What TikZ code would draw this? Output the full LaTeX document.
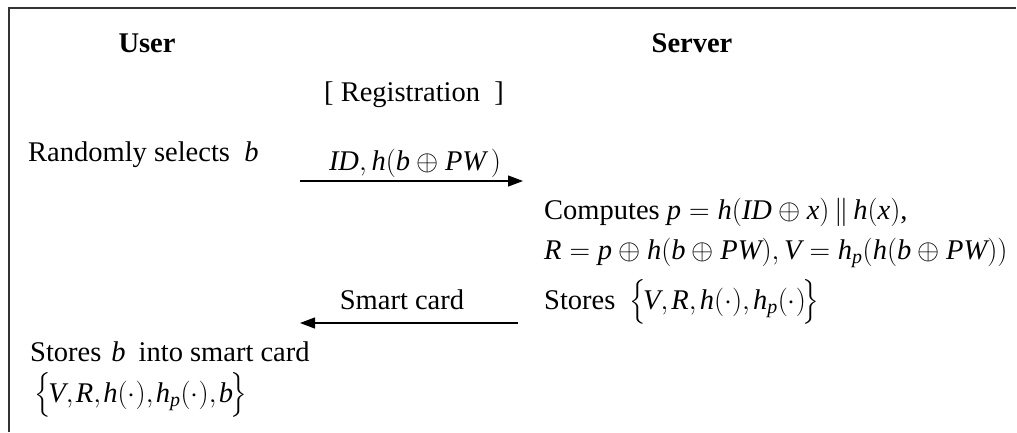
\documentclass[tikz,border=0pt]{standalone}
\usepackage{fix-cm}
\usepackage{amsmath}
\usepackage{fontspec}
\setmainfont{Liberation Serif}
\usetikzlibrary{arrows.meta}
\newcommand{\mv}[1]{\textit{#1}}
\begin{document}
\begin{tikzpicture}[x=1pt,y=-1pt,
  txt/.style={inner sep=0pt, font=\fontsize{28.5}{34}\selectfont},
  lt/.style={txt, anchor=base west},
  ct/.style={txt, anchor=base},
  msg/.style={line width=1.2pt, -{Triangle[length=15pt,width=11pt]}},
  frame/.style={line width=1.3pt, black!80}]
\useasboundingbox (0,0) rectangle (1017,432);
\draw[frame] (9,432) -- (9,8) -- (1016,8);

\node[ct] (user) at (147,52) {\textbf{User}};
\node[ct] (server) at (692,52) {\textbf{Server}};
\node[ct] (reg) at (414,101) {[ Registration\ \ ]};

\node[lt] (rand) at (28,161) {Randomly selects\ \ $\mv{b}$};
\node[ct] (msg1) at (415,170) {$\mv{ID}, \mv{h}(\mv{b}\oplus \mv{PW}\,)$};
\coordinate (a1s) at (300,181);
\coordinate (a1e) at (523,181);
\draw[msg] (a1s) -- (a1e);

\node[lt] (comp) at (544,219) {Computes $\mv{p}=\mv{h}(\mv{ID}\oplus \mv{x})\,\|\,\mv{h}(\mv{x})$,};
\node[lt] (rv) at (544,259) {$\mv{R}=\mv{p}\oplus\mv{h}(\mv{b}\oplus\mv{PW}),\mv{V}=\mv{h}_{\mv{p}}(\mv{h}(\mv{b}\oplus\mv{PW}))$};
\node[lt] (st) at (544,309) {\thinmuskip=2mu Stores\ \ $\bigl\{\!\mv{V},\mv{R},\mv{h}(\cdot),\mv{h}_{\mv{p}}(\cdot)\!\bigr\}$};

\node[ct] (sc) at (402,309) {Smart card};
\coordinate (a2s) at (518,323);
\coordinate (a2e) at (300,323);
\draw[msg] (a2s) -- (a2e);

\node[lt] (stb) at (30,361) {Stores\hspace{10pt}$\mv{b}$\hspace{13pt}into smart card};
\node[lt] (set) at (34,402) {\thinmuskip=1.5mu$\bigl\{\!\mv{V},\mv{R},\mv{h}(\cdot),\mv{h}_{\mv{p}}(\cdot),\mv{b}\!\bigr\}$};
\end{tikzpicture}
\end{document}
